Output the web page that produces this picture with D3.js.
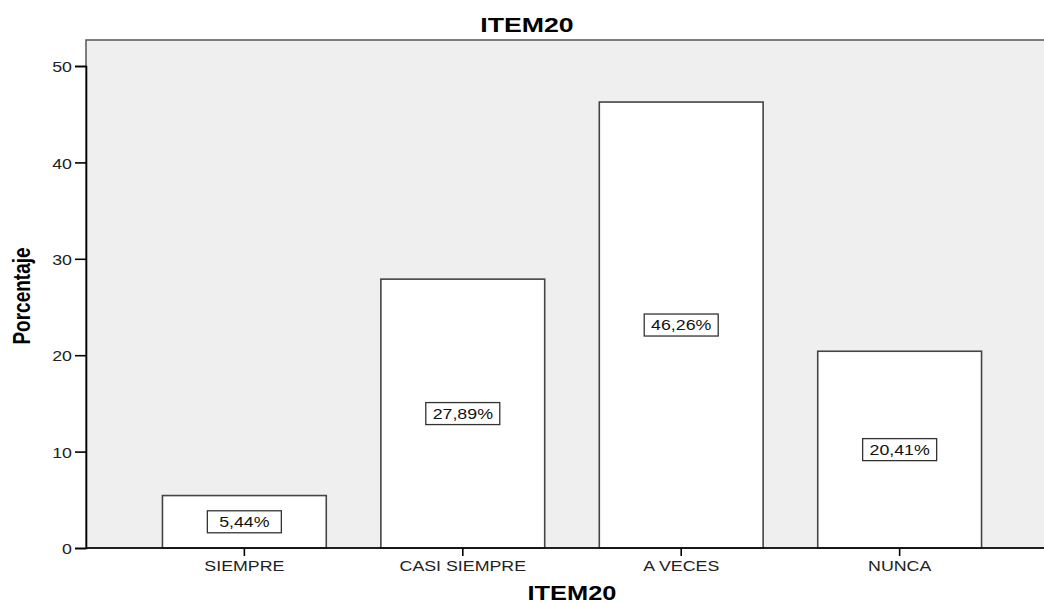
<!DOCTYPE html>
<html>
<head>
<meta charset="utf-8">
<script src="https://cdn.jsdelivr.net/npm/d3@7"></script>
<style>
  body { margin: 0; background: #fff; }
  text { font-family: "Liberation Sans", Arial, sans-serif; }
</style>
</head>
<body>
<div class="container"></div>
<script>
// datos del grafico
var categories = ['SIEMPRE', 'CASI SIEMPRE', 'A VECES', 'NUNCA'];
var percents = [5.44, 27.89, 46.26, 20.41];
var yTicks = [0, 10, 20, 30, 40, 50];
var chartTitle = 'ITEM20',
  xTitle = 'ITEM20',
  yTitle = 'Porcentaje';

var width = 1044,
  height = 603;
// el grafico original esta estirado en horizontal
var sx = 1.27;

var svg = d3.select('.container')
  .append('svg')
  .attr('width', width)
  .attr('height', height);

var plotLeft = 86,
  plotRight = 1060,
  plotTop = 40,
  plotBottom = 548;

var x = d3.scaleBand()
  .domain(categories)
  .range([86, 1058])
  .paddingInner(0.25)
  .paddingOuter(0.35);

var y = d3.scaleLinear()
  .domain([0, 50])
  .range([plotBottom, 66]);

// fondo del area de grafico
svg.append('rect')
  .attr('x', plotLeft)
  .attr('y', plotTop)
  .attr('width', plotRight - plotLeft)
  .attr('height', plotBottom - plotTop)
  .attr('fill', '#efefef')
  .attr('stroke', '#555')
  .attr('stroke-width', 1.5);

// barras
svg.selectAll('rect.bar')
  .data(percents)
  .enter()
  .append('rect')
  .attr('class', 'bar')
  .attr('x', function(d, i) { return x(categories[i]); })
  .attr('y', function(d) { return y(d); })
  .attr('width', x.bandwidth())
  .attr('height', function(d) { return y(0) - y(d); })
  .attr('fill', '#fff')
  .attr('stroke', '#444')
  .attr('stroke-width', 1.6);

// etiquetas con porcentaje
var labels = svg.selectAll('g.lab')
  .data(percents)
  .enter()
  .append('g')
  .attr('class', 'lab')
  .attr('transform', function(d, i) {
    return 'translate(' + (x(categories[i]) + x.bandwidth() / 2) + ',' + y(d / 2) + ')';
  });
labels.append('rect')
  .attr('x', -37)
  .attr('y', -11)
  .attr('width', 74)
  .attr('height', 22)
  .attr('fill', '#fff')
  .attr('stroke', '#333')
  .attr('stroke-width', 1.3);
labels.append('text')
  .attr('text-anchor', 'middle')
  .attr('dy', '0.36em')
  .attr('font-size', 14)
  .attr('fill', '#111')
  .attr('transform', 'scale(' + sx + ',1)')
  .text(function(d) { return d.toFixed(2).replace('.', ',') + '%'; });

// ejes
var yAxis = svg.append('g')
  .attr('transform', 'translate(' + plotLeft + ',0)')
  .call(d3.axisLeft(y).tickValues(yTicks).tickSize(11).tickPadding(3));
var xAxis = svg.append('g')
  .attr('transform', 'translate(0,' + plotBottom + ')')
  .call(d3.axisBottom(x).tickSize(8).tickPadding(5));

[yAxis, xAxis].forEach(function(a) {
  a.select('.domain').attr('stroke', '#000').attr('stroke-width', 1.6);
  a.selectAll('.tick line').attr('stroke', '#000').attr('stroke-width', 1.6);
  a.selectAll('.tick text')
    .attr('font-family', '"Liberation Sans", Arial, sans-serif')
    .attr('font-size', 14)
    .attr('fill', '#222')
    .attr('x', function() { return (+d3.select(this).attr('x') || 0) / sx; })
    .attr('transform', 'scale(' + sx + ',1)');
});
yAxis.selectAll('.tick text').attr('dy', '0.4em');
xAxis.select('.domain').attr('d', 'M' + plotLeft + ',0H' + plotRight);

// titulos
svg.append('text')
  .attr('transform', 'translate(527,32) scale(' + sx + ',1)')
  .attr('text-anchor', 'middle')
  .attr('font-size', 21)
  .attr('font-weight', 'bold')
  .text(chartTitle);

svg.append('text')
  .attr('transform', 'translate(572,600) scale(' + sx + ',1)')
  .attr('text-anchor', 'middle')
  .attr('font-size', 20)
  .attr('font-weight', 'bold')
  .text(xTitle);

svg.append('text')
  .attr('transform', 'translate(30,296) rotate(-90) scale(1,' + sx + ')')
  .attr('text-anchor', 'middle')
  .attr('font-size', 19)
  .attr('font-weight', 'bold')
  .text(yTitle);
</script>
</body>
</html>
